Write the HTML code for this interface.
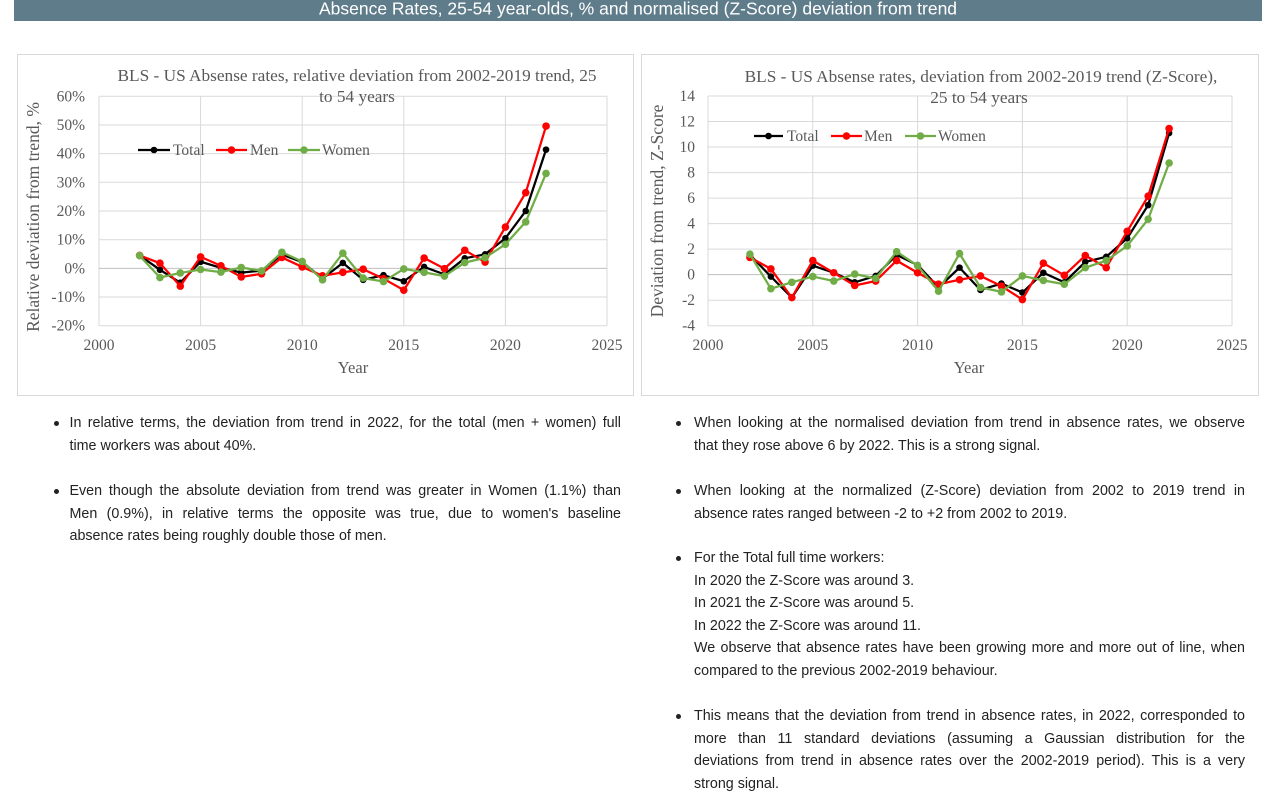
<!DOCTYPE html>
<html>
<head>
<meta charset="utf-8">
<style>
  html, body { margin:0; padding:0; background:#ffffff; }
  body { width:1276px; height:800px; position:relative; overflow:hidden; }
  svg.main { position:absolute; left:0; top:0; }
  .item { position:absolute; font-family:"Liberation Sans", Arial, sans-serif; font-size:14.3px; line-height:22.5px; color:#222; }
  .item div { text-align:justify; text-align-last:justify; white-space:normal; }
  .item div.last { text-align:left; text-align-last:left; }
  .bul { position:absolute; width:5px; height:5px; border-radius:50%; background:#222; }
  .L { left:69.5px; width:551.5px; }
  .R { left:694px; width:551px; }
</style>
</head>
<body>
<svg class="main" width="1276" height="800" viewBox="0 0 1276 800" xmlns="http://www.w3.org/2000/svg">
  <!-- Header -->
  <rect x="14" y="0" width="1248" height="21" fill="#5f7c8a"/>
  <text x="638" y="14.5" text-anchor="middle" fill="#ffffff" font-family="Liberation Sans, Arial, sans-serif" font-size="17.5">Absence Rates, 25-54 year-olds, % and normalised (Z-Score) deviation from trend</text>

  <!-- Chart boxes -->
  <rect x="17.5" y="54.5" width="616" height="341" fill="#fff" stroke="#d9d9d9" stroke-width="1"/>
  <rect x="641.5" y="54.5" width="617" height="341" fill="#fff" stroke="#d9d9d9" stroke-width="1"/>

  <!-- LEFT CHART -->
  <g stroke="#d9d9d9" stroke-width="1" fill="none">
    <line x1="99" y1="96.3" x2="607" y2="96.3"/>
    <line x1="99" y1="125.0" x2="607" y2="125.0"/>
    <line x1="99" y1="153.65" x2="607" y2="153.65"/>
    <line x1="99" y1="182.3" x2="607" y2="182.3"/>
    <line x1="99" y1="211.0" x2="607" y2="211.0"/>
    <line x1="99" y1="239.7" x2="607" y2="239.7"/>
    <line x1="99" y1="297.0" x2="607" y2="297.0"/>
    <line x1="99" y1="325.7" x2="607" y2="325.7"/>
    <line x1="99" y1="96.3" x2="99" y2="325.7"/>
    <line x1="200.6" y1="96.3" x2="200.6" y2="325.7"/>
    <line x1="302.2" y1="96.3" x2="302.2" y2="325.7"/>
    <line x1="403.8" y1="96.3" x2="403.8" y2="325.7"/>
    <line x1="505.4" y1="96.3" x2="505.4" y2="325.7"/>
    <line x1="607" y1="96.3" x2="607" y2="325.7"/>
  </g>
  <line x1="99" y1="268.35" x2="607" y2="268.35" stroke="#bfbfbf" stroke-width="1"/>

  <g font-family="Liberation Serif, Times New Roman, serif" fill="#595959">
    <text x="357" y="81" text-anchor="middle" font-size="17.3">BLS - US Absense rates, relative deviation from 2002-2019 trend, 25</text>
    <text x="357" y="102" text-anchor="middle" font-size="17.3">to 54 years</text>
    <g font-size="15.5" text-anchor="end">
      <text x="85" y="101.3">60%</text>
      <text x="85" y="130">50%</text>
      <text x="85" y="158.7">40%</text>
      <text x="85" y="187.3">30%</text>
      <text x="85" y="216">20%</text>
      <text x="85" y="244.7">10%</text>
      <text x="85" y="273.4">0%</text>
      <text x="85" y="302">-10%</text>
      <text x="85" y="330.7">-20%</text>
    </g>
    <g font-size="15.5" text-anchor="middle">
      <text x="99" y="350">2000</text>
      <text x="200.6" y="350">2005</text>
      <text x="302.2" y="350">2010</text>
      <text x="403.8" y="350">2015</text>
      <text x="505.4" y="350">2020</text>
      <text x="607" y="350">2025</text>
    </g>
    <text x="353" y="373" text-anchor="middle" font-size="16.5">Year</text>
    <text transform="translate(33,217) rotate(-90)" text-anchor="middle" dominant-baseline="central" font-size="17.5">Relative deviation from trend, %</text>
    <g font-size="15.5">
      <text x="173" y="155">Total</text>
      <text x="250" y="155">Men</text>
      <text x="322" y="155">Women</text>
    </g>
  </g>
  <!-- left legend -->
  <g stroke-width="2.25">
    <line x1="138" y1="150" x2="170" y2="150" stroke="#000"/>
    <line x1="216" y1="150" x2="247" y2="150" stroke="#ff0000"/>
    <line x1="288" y1="150" x2="320" y2="150" stroke="#70ad47"/>
  </g>
  <circle cx="154" cy="150" r="3.3" fill="#000"/>
  <circle cx="231.5" cy="150" r="3.8" fill="#ff0000"/>
  <circle cx="304" cy="150" r="3.8" fill="#70ad47"/>

  <!-- left data: Total -->
  <polyline fill="none" stroke="#000" stroke-width="2.25" stroke-linejoin="round"
    points="139.64,255.45 159.96,269.78 180.28,282.69 200.60,261.75 220.92,267.78 241.24,272.65 261.56,270.64 281.88,254.59 302.20,262.04 322.52,278.67 342.84,262.90 363.16,279.82 383.48,275.23 403.80,281.25 424.12,266.92 444.44,274.37 464.76,258.31 485.08,254.30 505.40,238.24 525.72,211.00 546.04,149.64"/>
  <g fill="#000">
    <circle cx="139.64" cy="255.45" r="3.3"/><circle cx="159.96" cy="269.78" r="3.3"/><circle cx="180.28" cy="282.69" r="3.3"/><circle cx="200.60" cy="261.75" r="3.3"/><circle cx="220.92" cy="267.78" r="3.3"/><circle cx="241.24" cy="272.65" r="3.3"/><circle cx="261.56" cy="270.64" r="3.3"/><circle cx="281.88" cy="254.59" r="3.3"/><circle cx="302.20" cy="262.04" r="3.3"/><circle cx="322.52" cy="278.67" r="3.3"/><circle cx="342.84" cy="262.90" r="3.3"/><circle cx="363.16" cy="279.82" r="3.3"/><circle cx="383.48" cy="275.23" r="3.3"/><circle cx="403.80" cy="281.25" r="3.3"/><circle cx="424.12" cy="266.92" r="3.3"/><circle cx="444.44" cy="274.37" r="3.3"/><circle cx="464.76" cy="258.31" r="3.3"/><circle cx="485.08" cy="254.30" r="3.3"/><circle cx="505.40" cy="238.24" r="3.3"/><circle cx="525.72" cy="211.00" r="3.3"/><circle cx="546.04" cy="149.64" r="3.3"/>
  </g>
  <!-- left data: Men -->
  <polyline fill="none" stroke="#ff0000" stroke-width="2.25" stroke-linejoin="round"
    points="139.64,255.45 159.96,263.19 180.28,286.13 200.60,256.88 220.92,265.77 241.24,276.95 261.56,273.80 281.88,257.45 302.20,266.92 322.52,275.81 342.84,272.36 363.16,269.21 383.48,278.67 403.80,290.14 424.12,258.03 444.44,268.64 464.76,250.28 485.08,262.04 505.40,227.06 525.72,192.65 546.04,126.12"/>
  <g fill="#ff0000">
    <circle cx="139.64" cy="255.45" r="3.8"/><circle cx="159.96" cy="263.19" r="3.8"/><circle cx="180.28" cy="286.13" r="3.8"/><circle cx="200.60" cy="256.88" r="3.8"/><circle cx="220.92" cy="265.77" r="3.8"/><circle cx="241.24" cy="276.95" r="3.8"/><circle cx="261.56" cy="273.80" r="3.8"/><circle cx="281.88" cy="257.45" r="3.8"/><circle cx="302.20" cy="266.92" r="3.8"/><circle cx="322.52" cy="275.81" r="3.8"/><circle cx="342.84" cy="272.36" r="3.8"/><circle cx="363.16" cy="269.21" r="3.8"/><circle cx="383.48" cy="278.67" r="3.8"/><circle cx="403.80" cy="290.14" r="3.8"/><circle cx="424.12" cy="258.03" r="3.8"/><circle cx="444.44" cy="268.64" r="3.8"/><circle cx="464.76" cy="250.28" r="3.8"/><circle cx="485.08" cy="262.04" r="3.8"/><circle cx="505.40" cy="227.06" r="3.8"/><circle cx="525.72" cy="192.65" r="3.8"/><circle cx="546.04" cy="126.12" r="3.8"/>
  </g>
  <!-- left data: Women -->
  <polyline fill="none" stroke="#70ad47" stroke-width="2.25" stroke-linejoin="round"
    points="139.64,255.73 159.96,277.53 180.28,272.94 200.60,269.50 220.92,272.08 241.24,267.49 261.56,270.93 281.88,252.29 302.20,261.47 322.52,279.82 342.84,253.15 363.16,278.10 383.48,281.54 403.80,268.92 424.12,272.36 444.44,276.09 464.76,262.62 485.08,257.74 505.40,244.26 525.72,221.90 546.04,173.43"/>
  <g fill="#70ad47">
    <circle cx="139.64" cy="255.73" r="3.8"/><circle cx="159.96" cy="277.53" r="3.8"/><circle cx="180.28" cy="272.94" r="3.8"/><circle cx="200.60" cy="269.50" r="3.8"/><circle cx="220.92" cy="272.08" r="3.8"/><circle cx="241.24" cy="267.49" r="3.8"/><circle cx="261.56" cy="270.93" r="3.8"/><circle cx="281.88" cy="252.29" r="3.8"/><circle cx="302.20" cy="261.47" r="3.8"/><circle cx="322.52" cy="279.82" r="3.8"/><circle cx="342.84" cy="253.15" r="3.8"/><circle cx="363.16" cy="278.10" r="3.8"/><circle cx="383.48" cy="281.54" r="3.8"/><circle cx="403.80" cy="268.92" r="3.8"/><circle cx="424.12" cy="272.36" r="3.8"/><circle cx="444.44" cy="276.09" r="3.8"/><circle cx="464.76" cy="262.62" r="3.8"/><circle cx="485.08" cy="257.74" r="3.8"/><circle cx="505.40" cy="244.26" r="3.8"/><circle cx="525.72" cy="221.90" r="3.8"/><circle cx="546.04" cy="173.43" r="3.8"/>
  </g>

  <!-- RIGHT CHART -->
  <g stroke="#d9d9d9" stroke-width="1" fill="none">
    <line x1="708" y1="96.0" x2="1232" y2="96.0"/>
    <line x1="708" y1="121.5" x2="1232" y2="121.5"/>
    <line x1="708" y1="147.05" x2="1232" y2="147.05"/>
    <line x1="708" y1="172.6" x2="1232" y2="172.6"/>
    <line x1="708" y1="198.1" x2="1232" y2="198.1"/>
    <line x1="708" y1="223.6" x2="1232" y2="223.6"/>
    <line x1="708" y1="249.1" x2="1232" y2="249.1"/>
    <line x1="708" y1="300.2" x2="1232" y2="300.2"/>
    <line x1="708" y1="325.7" x2="1232" y2="325.7"/>
    <line x1="708" y1="96" x2="708" y2="325.7"/>
    <line x1="812.8" y1="96" x2="812.8" y2="325.7"/>
    <line x1="917.6" y1="96" x2="917.6" y2="325.7"/>
    <line x1="1022.4" y1="96" x2="1022.4" y2="325.7"/>
    <line x1="1127.2" y1="96" x2="1127.2" y2="325.7"/>
    <line x1="1232" y1="96" x2="1232" y2="325.7"/>
  </g>
  <line x1="708" y1="274.65" x2="1232" y2="274.65" stroke="#bfbfbf" stroke-width="1"/>

  <g font-family="Liberation Serif, Times New Roman, serif" fill="#595959">
    <text x="981" y="82" text-anchor="middle" font-size="17.3">BLS - US Absense rates, deviation from 2002-2019 trend (Z-Score),</text>
    <text x="979" y="103" text-anchor="middle" font-size="17.3">25 to 54 years</text>
    <g font-size="15.5" text-anchor="end">
      <text x="695" y="101">14</text>
      <text x="695" y="126.5">12</text>
      <text x="695" y="152">10</text>
      <text x="695" y="177.6">8</text>
      <text x="695" y="203.1">6</text>
      <text x="695" y="228.6">4</text>
      <text x="695" y="254.1">2</text>
      <text x="695" y="279.6">0</text>
      <text x="695" y="305.2">-2</text>
      <text x="695" y="330.7">-4</text>
    </g>
    <g font-size="15.5" text-anchor="middle">
      <text x="708" y="350">2000</text>
      <text x="812.8" y="350">2005</text>
      <text x="917.6" y="350">2010</text>
      <text x="1022.4" y="350">2015</text>
      <text x="1127.2" y="350">2020</text>
      <text x="1232" y="350">2025</text>
    </g>
    <text x="969" y="373" text-anchor="middle" font-size="16.5">Year</text>
    <text transform="translate(657,211) rotate(-90)" text-anchor="middle" dominant-baseline="central" font-size="17.5">Deviation from trend, Z-Score</text>
    <g font-size="15.5">
      <text x="787" y="141">Total</text>
      <text x="864" y="141">Men</text>
      <text x="938" y="141">Women</text>
    </g>
  </g>
  <g stroke-width="2.25">
    <line x1="754" y1="136" x2="783" y2="136" stroke="#000"/>
    <line x1="831" y1="136" x2="862" y2="136" stroke="#ff0000"/>
    <line x1="905" y1="136" x2="936" y2="136" stroke="#70ad47"/>
  </g>
  <circle cx="768.5" cy="136" r="3.3" fill="#000"/>
  <circle cx="846.5" cy="136" r="3.8" fill="#ff0000"/>
  <circle cx="920.5" cy="136" r="3.8" fill="#70ad47"/>

  <!-- right data: Total -->
  <polyline fill="none" stroke="#000" stroke-width="2.25" stroke-linejoin="round"
    points="749.92,254.87 770.88,276.56 791.84,297.62 812.80,265.72 833.76,272.74 854.72,282.31 875.68,275.93 896.64,254.87 917.60,265.08 938.56,287.41 959.52,267.63 980.48,289.96 1001.44,283.58 1022.40,292.51 1043.36,272.74 1064.32,282.31 1085.28,261.89 1106.24,256.79 1127.20,238.28 1148.16,205.11 1169.12,133.01"/>
  <g fill="#000">
    <circle cx="749.92" cy="254.87" r="3.3"/><circle cx="770.88" cy="276.56" r="3.3"/><circle cx="791.84" cy="297.62" r="3.3"/><circle cx="812.80" cy="265.72" r="3.3"/><circle cx="833.76" cy="272.74" r="3.3"/><circle cx="854.72" cy="282.31" r="3.3"/><circle cx="875.68" cy="275.93" r="3.3"/><circle cx="896.64" cy="254.87" r="3.3"/><circle cx="917.60" cy="265.08" r="3.3"/><circle cx="938.56" cy="287.41" r="3.3"/><circle cx="959.52" cy="267.63" r="3.3"/><circle cx="980.48" cy="289.96" r="3.3"/><circle cx="1001.44" cy="283.58" r="3.3"/><circle cx="1022.40" cy="292.51" r="3.3"/><circle cx="1043.36" cy="272.74" r="3.3"/><circle cx="1064.32" cy="282.31" r="3.3"/><circle cx="1085.28" cy="261.89" r="3.3"/><circle cx="1106.24" cy="256.79" r="3.3"/><circle cx="1127.20" cy="238.28" r="3.3"/><circle cx="1148.16" cy="205.11" r="3.3"/><circle cx="1169.12" cy="133.01" r="3.3"/>
  </g>
  <!-- right data: Men -->
  <polyline fill="none" stroke="#ff0000" stroke-width="2.25" stroke-linejoin="round"
    points="749.92,257.42 770.88,268.91 791.84,297.62 812.80,260.61 833.76,272.74 854.72,285.50 875.68,281.03 896.64,260.61 917.60,272.74 938.56,284.22 959.52,279.75 980.48,275.93 1001.44,286.13 1022.40,299.53 1043.36,263.17 1064.32,275.29 1085.28,255.51 1106.24,267.63 1127.20,231.27 1148.16,196.18 1169.12,128.55"/>
  <g fill="#ff0000">
    <circle cx="749.92" cy="257.42" r="3.8"/><circle cx="770.88" cy="268.91" r="3.8"/><circle cx="791.84" cy="297.62" r="3.8"/><circle cx="812.80" cy="260.61" r="3.8"/><circle cx="833.76" cy="272.74" r="3.8"/><circle cx="854.72" cy="285.50" r="3.8"/><circle cx="875.68" cy="281.03" r="3.8"/><circle cx="896.64" cy="260.61" r="3.8"/><circle cx="917.60" cy="272.74" r="3.8"/><circle cx="938.56" cy="284.22" r="3.8"/><circle cx="959.52" cy="279.75" r="3.8"/><circle cx="980.48" cy="275.93" r="3.8"/><circle cx="1001.44" cy="286.13" r="3.8"/><circle cx="1022.40" cy="299.53" r="3.8"/><circle cx="1043.36" cy="263.17" r="3.8"/><circle cx="1064.32" cy="275.29" r="3.8"/><circle cx="1085.28" cy="255.51" r="3.8"/><circle cx="1106.24" cy="267.63" r="3.8"/><circle cx="1127.20" cy="231.27" r="3.8"/><circle cx="1148.16" cy="196.18" r="3.8"/><circle cx="1169.12" cy="128.55" r="3.8"/>
  </g>
  <!-- right data: Women -->
  <polyline fill="none" stroke="#70ad47" stroke-width="2.25" stroke-linejoin="round"
    points="749.92,254.23 770.88,288.69 791.84,282.31 812.80,276.56 833.76,281.03 854.72,274.01 875.68,278.48 896.64,251.68 917.60,265.72 938.56,291.24 959.52,253.60 980.48,287.41 1001.44,291.88 1022.40,275.93 1043.36,280.39 1064.32,284.22 1085.28,267.63 1106.24,260.61 1127.20,245.94 1148.16,219.14 1169.12,163.00"/>
  <g fill="#70ad47">
    <circle cx="749.92" cy="254.23" r="3.8"/><circle cx="770.88" cy="288.69" r="3.8"/><circle cx="791.84" cy="282.31" r="3.8"/><circle cx="812.80" cy="276.56" r="3.8"/><circle cx="833.76" cy="281.03" r="3.8"/><circle cx="854.72" cy="274.01" r="3.8"/><circle cx="875.68" cy="278.48" r="3.8"/><circle cx="896.64" cy="251.68" r="3.8"/><circle cx="917.60" cy="265.72" r="3.8"/><circle cx="938.56" cy="291.24" r="3.8"/><circle cx="959.52" cy="253.60" r="3.8"/><circle cx="980.48" cy="287.41" r="3.8"/><circle cx="1001.44" cy="291.88" r="3.8"/><circle cx="1022.40" cy="275.93" r="3.8"/><circle cx="1043.36" cy="280.39" r="3.8"/><circle cx="1064.32" cy="284.22" r="3.8"/><circle cx="1085.28" cy="267.63" r="3.8"/><circle cx="1106.24" cy="260.61" r="3.8"/><circle cx="1127.20" cy="245.94" r="3.8"/><circle cx="1148.16" cy="219.14" r="3.8"/><circle cx="1169.12" cy="163.00" r="3.8"/>
  </g>
</svg>

<!-- Left column bullets -->
<div class="bul" style="left:53.5px; top:420.5px;"></div>
<div class="item L" style="top:412px;">
  <div>In relative terms, the deviation from trend in 2022, for the total (men + women) full</div>
  <div class="last">time workers was about 40%.</div>
</div>

<div class="bul" style="left:53.5px; top:488.5px;"></div>
<div class="item L" style="top:480px;">
  <div>Even though the absolute deviation from trend was greater in Women (1.1%) than</div>
  <div>Men (0.9%), in relative terms the opposite was true, due to women's baseline</div>
  <div class="last">absence rates being roughly double those of men.</div>
</div>

<!-- Right column bullets -->
<div class="bul" style="left:676px; top:420.5px;"></div>
<div class="item R" style="top:412px;">
  <div>When looking at the normalised deviation from trend in absence rates, we observe</div>
  <div class="last">that they rose above 6 by 2022. This is a strong signal.</div>
</div>

<div class="bul" style="left:676px; top:488.5px;"></div>
<div class="item R" style="top:480px;">
  <div>When looking at the normalized (Z-Score) deviation from 2002 to 2019 trend in</div>
  <div class="last">absence rates ranged between -2 to +2 from 2002 to 2019.</div>
</div>

<div class="bul" style="left:676px; top:555.5px;"></div>
<div class="item R" style="top:547px;">
  <div class="last">For the Total full time workers:</div>
  <div class="last">In 2020 the Z-Score was around 3.</div>
  <div class="last">In 2021 the Z-Score was around 5.</div>
  <div class="last">In 2022 the Z-Score was around 11.</div>
  <div>We observe that absence rates have been growing more and more out of line, when</div>
  <div class="last">compared to the previous 2002-2019 behaviour.</div>
</div>

<div class="bul" style="left:676px; top:713.5px;"></div>
<div class="item R" style="top:705px;">
  <div>This means that the deviation from trend in absence rates, in 2022, corresponded to</div>
  <div>more than 11 standard deviations (assuming a Gaussian distribution for the</div>
  <div>deviations from trend in absence rates over the 2002-2019 period). This is a very</div>
  <div class="last">strong signal.</div>
</div>
</body>
</html>
